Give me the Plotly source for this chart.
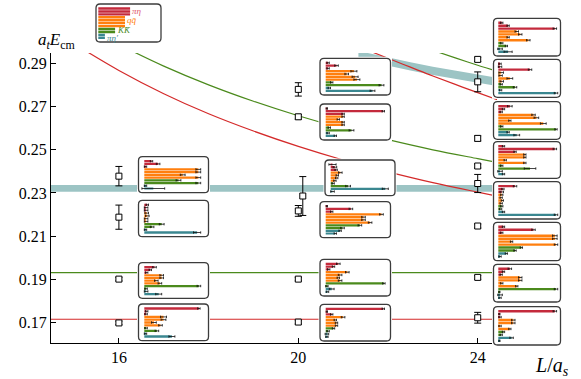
import plotly.graph_objects as go

W, H = 581, 379

# ---------------- main-plot data ----------------
L16_L = [16, 16, 16, 16]
L16_E = [0.2378, 0.2188, 0.1901, 0.1698]
L16_dE = [0.0045, 0.0056, 0.0008, 0.0008]

L20_L = [20, 20, 20.1, 20, 20, 20]
L20_E = [0.2780, 0.2653, 0.2286, 0.2217, 0.1901, 0.1702]
L20_dE = [0.0031, 0.0011, 0.0090, 0.0025, 0.0008, 0.0009]

L24_L = [24, 24, 24, 24, 24, 24, 24, 24]
L24_E = [0.2919, 0.2815, 0.2553, 0.2425, 0.2344, 0.2147, 0.1909, 0.1722]
L24_dE = [0.0010, 0.0046, 0.0012, 0.0009, 0.0042, 0.0009, 0.0009, 0.0025]

# non-interacting curves
red1_L = [15.2, 16, 17, 18, 19, 20, 21, 22, 23, 24, 24.45]
red1_E = [0.2966, 0.2868, 0.2760, 0.2667, 0.2587, 0.2516, 0.2453, 0.2398, 0.2348, 0.2304, 0.2285]
green1_L = [16.3, 17, 18, 19, 20, 21, 22, 23, 24, 24.45]
green1_E = [0.2957, 0.2888, 0.2801, 0.2725, 0.2658, 0.2599, 0.2547, 0.2500, 0.2459, 0.2441]
red2_L = [21.6, 22, 22.5, 23, 23.5, 24, 24.45]
red2_E = [0.2957, 0.2924, 0.2883, 0.2842, 0.2803, 0.2765, 0.2731]
green2_L = [23.1, 23.5, 24.0, 24.45]
green2_E = [0.2954, 0.2926, 0.2892, 0.2863]
thr_L = [14.0, 25.0]
thr_red_E = [0.1715, 0.1715]
thr_green_E = [0.1931, 0.1931]

# bands
band1_L = [14.0, 25.0]
band1_lo = [0.2306, 0.2306]
band1_hi = [0.2337, 0.2337]
band2_L = [21.34, 22, 22.5, 23, 23.5, 24, 24.45]
band2_lo = [0.2920, 0.2889, 0.2868, 0.2847, 0.2828, 0.2810, 0.2795]
band2_hi = [0.2958, 0.2927, 0.2906, 0.2885, 0.2866, 0.2848, 0.2833]

# ---------------- overlap histograms (3 pi-eta, 4 q-qbar, 2 KKbar, 2 pi-eta') ----------------
Z_A = [0.12, 0.23, 0.02, 0.90, 0.90, 0.64, 0.90, 0.57, 0.90, 0.02, 0.15]
dZ_A = [0.02, 0.03, 0.02, 0.04, 0.04, 0.04, 0.04, 0.04, 0.04, 0.02, 0.19]
Z_B = [0.05, 0.03, 0.03, 0.04, 0.05, 0.03, 0.03, 0.29, 0.13, 0.02, 0.88]
dZ_B = [0.02, 0.03, 0.03, 0.03, 0.03, 0.03, 0.03, 0.04, 0.03, 0.02, 0.06]
Z_C = [0.17, 0.10, 0.04, 0.29, 0.29, 0.20, 0.26, 0.91, 0.03, 0.03, 0.24]
dZ_C = [0.03, 0.02, 0.02, 0.03, 0.03, 0.03, 0.03, 0.03, 0.02, 0.03, 0.05]
Z_D = [0.91, 0.04, 0.03, 0.32, 0.32, 0.16, 0.27, 0.03, 0.21, 0.02, 0.46]
dZ_D = [0.02, 0.02, 0.02, 0.05, 0.04, 0.04, 0.03, 0.02, 0.03, 0.02, 0.05]

Z_E = [0.04, 0.18, 0.04, 0.47, 0.35, 0.49, 0.52, 0.10, 0.93, 0.06, 0.78]
dZ_E = [0.02, 0.03, 0.02, 0.05, 0.03, 0.05, 0.05, 0.02, 0.04, 0.02, 0.04]
Z_F = [0.02, 0.96, 0.29, 0.29, 0.21, 0.29, 0.29, 0.06, 0.43, 0.04, 0.16]
dZ_F = [0.01, 0.02, 0.02, 0.02, 0.02, 0.02, 0.02, 0.02, 0.04, 0.02, 0.02]
Z_G = [0.03, 0.07, 0.09, 0.16, 0.11, 0.10, 0.07, 0.04, 0.29, 0.91, 0.03]
dZ_G = [0.06, 0.03, 0.02, 0.03, 0.02, 0.02, 0.02, 0.02, 0.04, 0.05, 0.03]
Z_H = [0.02, 0.42, 0.10, 0.93, 0.63, 0.63, 0.74, 0.57, 0.28, 0.24, 0.16]
dZ_H = [0.01, 0.03, 0.02, 0.03, 0.03, 0.03, 0.03, 0.03, 0.03, 0.02, 0.02]
Z_I = [0.21, 0.13, 0.05, 0.36, 0.24, 0.21, 0.24, 0.97, 0.02, 0.10, 0.03]
dZ_I = [0.03, 0.02, 0.02, 0.03, 0.03, 0.02, 0.03, 0.02, 0.02, 0.04, 0.02]
Z_J = [0.96, 0.02, 0.10, 0.29, 0.16, 0.18, 0.18, 0.13, 0.04, 0.02, 0.02]
dZ_J = [0.02, 0.01, 0.02, 0.03, 0.02, 0.02, 0.02, 0.02, 0.02, 0.03, 0.02]

Z_K = [0.06, 0.17, 0.98, 0.32, 0.38, 0.17, 0.52, 0.06, 0.14, 0.03, 0.17]
dZ_K = [0.02, 0.02, 0.03, 0.03, 0.03, 0.02, 0.03, 0.02, 0.02, 0.04, 0.07]
Z_L = [0.03, 0.03, 0.55, 0.05, 0.04, 0.20, 0.06, 0.05, 0.29, 0.04, 1.00]
dZ_L = [0.02, 0.03, 0.03, 0.04, 0.03, 0.05, 0.03, 0.02, 0.03, 0.02, 0.03]
Z_M = [0.20, 0.09, 0.05, 0.61, 0.66, 0.20, 0.78, 0.06, 1.00, 0.17, 0.32]
dZ_M = [0.04, 0.02, 0.02, 0.03, 0.04, 0.02, 0.05, 0.02, 0.02, 0.02, 0.05]
Z_N = [0.09, 0.98, 0.29, 0.46, 0.46, 0.12, 0.46, 0.06, 0.55, 0.03, 0.09]
dZ_N = [0.02, 0.03, 0.02, 0.02, 0.02, 0.02, 0.02, 0.02, 0.10, 0.04, 0.02]
Z_O = [0.29, 0.08, 0.06, 0.06, 0.05, 0.07, 0.05, 0.06, 0.04, 0.09, 1.00]
dZ_O = [0.03, 0.02, 0.03, 0.02, 0.02, 0.02, 0.02, 0.02, 0.02, 0.02, 0.03]
Z_P = [0.09, 0.61, 0.06, 0.98, 0.98, 0.23, 1.00, 0.40, 0.29, 0.14, 0.03]
dZ_P = [0.02, 0.03, 0.02, 0.04, 0.04, 0.02, 0.03, 0.02, 0.02, 0.02, 0.02]
Z_Q = [0.20, 0.09, 0.05, 0.38, 0.38, 0.06, 0.32, 1.00, 0.02, 0.03, 0.03]
dZ_Q = [0.03, 0.02, 0.02, 0.03, 0.03, 0.02, 0.02, 0.03, 0.01, 0.04, 0.02]
Z_R = [0.98, 0.02, 0.03, 0.26, 0.26, 0.03, 0.20, 0.09, 0.05, 0.23, 0.02]
dZ_R = [0.03, 0.01, 0.02, 0.03, 0.03, 0.02, 0.02, 0.02, 0.02, 0.03, 0.01]

legend_len = [0.53, 0.53, 0.53, 0.445, 0.445, 0.445, 0.445, 0.28, 0.28, 0.11, 0.11]
legend_labels = ["πη", "qq̄", "KK̄", "πη′"]

# ---------------- styles ----------------
C_RED = "#c42a3c"
C_ORA = "#ff7f0e"
C_GRN = "#4b8a1c"
C_TEA = "#3a8790"
bar_colors = [C_RED] * 3 + [C_ORA] * 4 + [C_GRN] * 2 + [C_TEA] * 2
label_colors = ["#e0596a", C_ORA, C_GRN, C_TEA]
label_idx = [0.8, 4.0, 7.4, 10.0]
label_x = [0.53, 0.445, 0.28, 0.11]
CURVE_RED = "#d42a2a"
CURVE_GRN = "#4b8a1c"
BAND = "#9cc4c4"
SERIF = "Liberation Serif"

fig = go.Figure()

# bands
fig.add_trace(go.Scatter(x=band1_L, y=band1_lo, mode="lines", line=dict(width=0), hoverinfo="skip"))
fig.add_trace(go.Scatter(x=band1_L, y=band1_hi, mode="lines", line=dict(width=0), fill="tonexty", fillcolor=BAND))
fig.add_trace(go.Scatter(x=band2_L, y=band2_lo, mode="lines", line=dict(width=0), hoverinfo="skip"))
fig.add_trace(go.Scatter(x=band2_L, y=band2_hi, mode="lines", line=dict(width=0), fill="tonexty", fillcolor=BAND))

# thresholds and curves
fig.add_trace(go.Scatter(x=thr_L, y=thr_red_E, mode="lines", line=dict(color=CURVE_RED, width=1.1)))
fig.add_trace(go.Scatter(x=thr_L, y=thr_green_E, mode="lines", line=dict(color=CURVE_GRN, width=1.1)))
for xs, ys, c in [(red1_L, red1_E, CURVE_RED), (red2_L, red2_E, CURVE_RED),
                  (green1_L, green1_E, CURVE_GRN), (green2_L, green2_E, CURVE_GRN)]:
    fig.add_trace(go.Scatter(x=xs, y=ys, mode="lines", line=dict(color=c, width=1.2, shape="spline")))

# energy levels
for xs, ys, es in [(L16_L, L16_E, L16_dE), (L20_L, L20_E, L20_dE), (L24_L, L24_E, L24_dE)]:
    fig.add_trace(go.Scatter(x=xs, y=ys, mode="markers",
                             marker=dict(symbol="square", size=6, color="white", line=dict(color="black", width=1)),
                             error_y=dict(type="data", array=es, color="black", thickness=1, width=3.5)))

fig.update_layout(
    width=W, height=H, margin=dict(l=0, r=0, t=0, b=0),
    paper_bgcolor="white", plot_bgcolor="white", showlegend=False,
    xaxis=dict(domain=[51 / W, 497 / W], range=[14.486, 24.43], tickvals=[16, 20, 24],
               ticks="inside", ticklen=5, tickwidth=1, tickcolor="black",
               showline=True, linecolor="black", linewidth=1.3, showgrid=False, zeroline=False,
               tickfont=dict(family=SERIF, size=16, color="black")),
    yaxis=dict(domain=[(H - 343) / H, (H - 53) / H], range=[0.1605, 0.29486],
               tickvals=[0.17, 0.19, 0.21, 0.23, 0.25, 0.27, 0.29],
               ticktext=["0.17", "0.19", "0.21", "0.23", "0.25", "0.27", "0.29"],
               ticks="inside", ticklen=5, tickwidth=1, tickcolor="black",
               showline=True, linecolor="black", linewidth=1.3, showgrid=False, zeroline=False,
               tickfont=dict(family=SERIF, size=16, color="black")),
)

# ---------------- insets ----------------
# (x0, y0, x1, y1) in pixels, bar start offset, full-scale length
boxes = [
    ((138.5, 156.7, 208.5, 192.7), 5.8, 60, Z_A, dZ_A),
    ((138.5, 200.3, 208.5, 236.7), 5.8, 60, Z_B, dZ_B),
    ((138.5, 262.7, 208.5, 298.3), 5.8, 60, Z_C, dZ_C),
    ((138.5, 304.0, 208.5, 340.7), 5.8, 60, Z_D, dZ_D),
    ((320.0, 58.3, 390.5, 95.0), 5.7, 60, Z_E, dZ_E),
    ((320.0, 104.0, 390.5, 140.0), 5.7, 60, Z_F, dZ_F),
    ((325.0, 160.0, 395.0, 195.7), 5.7, 60, Z_G, dZ_G),
    ((320.0, 201.7, 390.5, 237.7), 5.7, 60, Z_H, dZ_H),
    ((320.0, 259.3, 390.5, 296.0), 5.7, 60, Z_I, dZ_I),
    ((320.0, 304.3, 390.5, 341.0), 5.7, 60, Z_J, dZ_J),
    ((493.5, 18.3, 560.5, 56.0), 4.8, 57.7, Z_K, dZ_K),
    ((493.5, 59.3, 560.5, 97.3), 4.8, 57.7, Z_L, dZ_L),
    ((493.5, 101.7, 560.5, 139.3), 4.8, 57.7, Z_M, dZ_M),
    ((493.5, 141.7, 560.5, 178.3), 4.8, 57.7, Z_N, dZ_N),
    ((493.5, 181.7, 560.5, 219.0), 4.8, 57.7, Z_O, dZ_O),
    ((493.5, 222.3, 560.5, 260.7), 4.8, 57.7, Z_P, dZ_P),
    ((493.5, 264.3, 560.5, 302.0), 4.8, 57.7, Z_Q, dZ_Q),
    ((493.5, 306.7, 560.5, 345.0), 4.8, 57.7, Z_R, dZ_R),
    ((96.0, 4.0, 161.0, 42.0), 2.3, 60, legend_len, None),
]


def add_inset(k, rect, start_off, full_px, vals, errs, top_pad=4.5, bot_pad=4.2):
    x0, y0, x1, y1 = rect
    h = y1 - y0
    n = len(vals)
    pitch = (h - top_pad - bot_pad) / (n - 1)
    bs = x0 + start_off

    def vx(px):
        return (px - bs) / full_px

    def vy(py):
        return (py - (y0 + top_pad)) / pitch

    pad = 1.5
    fig.update_layout({
        f"xaxis{k}": dict(domain=[(x0 - pad) / W, (x1 + pad) / W], range=[vx(x0 - pad), vx(x1 + pad)],
                          visible=False, anchor=f"y{k}", fixedrange=True),
        f"yaxis{k}": dict(domain=[(H - (y1 + pad)) / H, (H - (y0 - pad)) / H],
                          range=[vy(y1 + pad), vy(y0 - pad)], visible=False, anchor=f"x{k}", fixedrange=True),
    })
    X0, X1, Y0, Y1 = vx(x0), vx(x1), vy(y0), vy(y1)
    rx, ry = 4 / full_px, 4 / pitch
    path = (f"M {X0 + rx},{Y0} L {X1 - rx},{Y0} Q {X1},{Y0} {X1},{Y0 + ry} "
            f"L {X1},{Y1 - ry} Q {X1},{Y1} {X1 - rx},{Y1} L {X0 + rx},{Y1} "
            f"Q {X0},{Y1} {X0},{Y1 - ry} L {X0},{Y0 + ry} Q {X0},{Y0} {X0 + rx},{Y0} Z")
    fig.add_shape(type="path", path=path, xref=f"x{k}", yref=f"y{k}", fillcolor="white",
                  line=dict(color="#3c3c3c", width=1.3), layer="below")
    bar = dict(x=vals, y=list(range(n)), orientation="h", xaxis=f"x{k}", yaxis=f"y{k}",
               marker=dict(color=bar_colors, line=dict(width=0)), width=0.82)
    if errs is not None:
        bar["error_x"] = dict(type="data", array=errs, color="#111111", thickness=0.8, width=1.2)
    fig.add_trace(go.Bar(**bar))
    return k


for i, (rect, so, fp, vals, errs) in enumerate(boxes):
    k = i + 2
    add_inset(k, rect, so, fp, vals, errs)

# legend labels (last inset)
leg_k = len(boxes) + 1
for txt, col, yi, xl in zip(legend_labels, label_colors, label_idx, label_x):
    fig.add_annotation(x=xl + 0.02, y=yi, xref=f"x{leg_k}", yref=f"y{leg_k}", text=f"<i>{txt}</i>",
                       showarrow=False, xanchor="left", yanchor="middle", borderpad=0,
                       font=dict(family=SERIF, size=9, color=col))

# axis titles
fig.add_annotation(x=56 / W, y=1 - 41 / H, xref="paper", yref="paper", showarrow=False,
                   xanchor="center", yanchor="middle",
                   text="<i>a</i><sub><i>t</i></sub><i>E</i><sub>cm</sub>",
                   font=dict(family=SERIF, size=17, color="black"))
fig.add_annotation(x=552 / W, y=1 - 366 / H, xref="paper", yref="paper", showarrow=False,
                   xanchor="center", yanchor="middle",
                   text="<i>L</i>/<i>a</i><sub><i>s</i></sub>",
                   font=dict(family=SERIF, size=20, color="black"))

fig.write_html("out.html", config={"displayModeBar": False},
               post_script="document.body.style.margin='0px';document.body.style.padding='0px';")
